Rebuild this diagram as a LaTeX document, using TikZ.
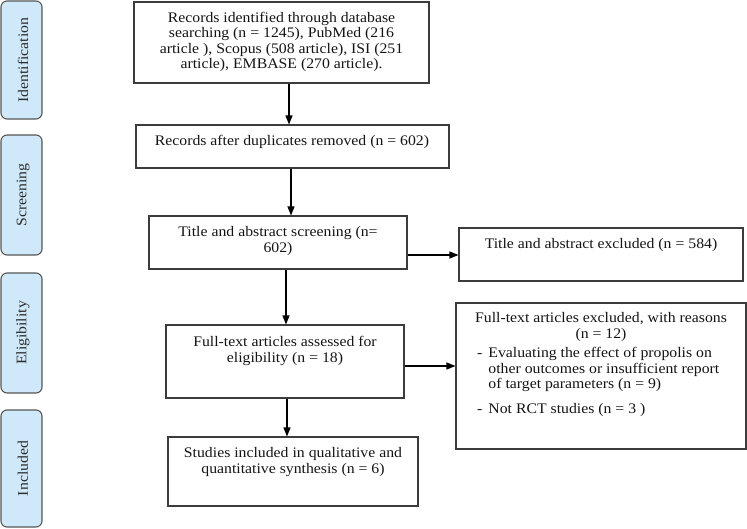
\documentclass[tikz,border=0pt]{standalone}
\usepackage{fontspec}
\setmainfont{Liberation Serif}[FakeStretch=1.08]
\usetikzlibrary{arrows.meta}
\definecolor{lblfill}{HTML}{CFE9FA}
\definecolor{lbldraw}{HTML}{555555}
\definecolor{boxdraw}{HTML}{3C3C3C}
\definecolor{txtcol}{HTML}{141414}
\begin{document}
\begin{tikzpicture}[x=1pt,y=-1pt,
  box/.style={draw=boxdraw, line width=1.1pt, inner sep=0pt},
  lbl/.style={draw=lbldraw, fill=lblfill, rounded corners=6pt, line width=1.1pt, inner sep=0pt, minimum width=41pt},
  txt/.style={text=txtcol, font=\fontsize{14.6}{15.3}\selectfont, align=center, inner sep=0pt},
  lbltxt/.style={text=txtcol!90, font=\fontsize{14.6}{15.3}\selectfont, rotate=90, inner sep=0pt},
  arr/.style={-{Triangle[length=9pt,width=7pt]}, line width=1.2pt, black}]
\useasboundingbox (0,0) rectangle (747,529);

% phase labels
\node[lbl, minimum height=118pt] (l1) at (21.5,60) {};
\node[lbl, minimum height=120pt] (l2) at (21.5,195) {};
\node[lbl, minimum height=120pt] (l3) at (21.5,333) {};
\node[lbl, minimum height=117pt] (l4) at (21.5,468.5) {};
\node[lbltxt] (lt1) at (23,60) {Identification};
\node[lbltxt] (lt2) at (23,195) {Screening};
\node[lbltxt] (lt3) at (23,333) {Eligibility};
\node[lbltxt] (lt4) at (23,468.5) {Included};

% boxes
\node[box, minimum width=295pt, minimum height=81pt] (b1) at (281.5,42.5) {};
\node[box, minimum width=313pt, minimum height=43pt] (b2) at (292.5,146.5) {};
\node[box, minimum width=258pt, minimum height=53pt] (b3) at (278,242.5) {};
\node[box, minimum width=284pt, minimum height=53pt] (b4) at (601,254.5) {};
\node[box, minimum width=238pt, minimum height=73pt] (b5) at (285,361.5) {};
\node[box, minimum width=290pt, minimum height=146pt] (b6) at (601,376) {};
\node[box, minimum width=250pt, minimum height=69pt] (b7) at (293,471.5) {};

% texts
\node[txt] (t1) at (281.5,42) {Records identified through database\\searching (n = 1245), PubMed (216\\article ), Scopus (508 article), ISI (251\\article), EMBASE (270 article).};
\node[txt] (t2) at (292,142) {Records after duplicates removed (n = 602)};
\node[txt] (t3) at (278,241) {Title and abstract screening (n=\\602)};
\node[txt] (t4) at (601,245) {Title and abstract excluded (n = 584)};
\node[txt] (t5) at (285,351) {Full-text articles assessed for\\eligibility (n = 18)};
\node[txt] (t7) at (293,462) {Studies included in qualitative and\\quantitative synthesis (n = 6)};
\node[txt] (t6) at (601,327) {Full-text articles excluded, with reasons\\(n = 12)};
\node[txt, anchor=west] (t6a) at (477,370) {\begin{tabular}{@{}l@{\hspace{6pt}}l@{}}-&Evaluating the effect of propolis on\\&other outcomes or insufficient report\\&of target parameters (n = 9)\end{tabular}};
\node[txt, anchor=west] (t6b) at (477,410) {\begin{tabular}{@{}l@{\hspace{6pt}}l@{}}-&Not RCT studies (n = 3 )\end{tabular}};

% connectors
\coordinate (ax1) at (289,0);
\coordinate (ax2) at (291,0);
\coordinate (ax3) at (286,0);
\coordinate (ax4) at (287,0);
\coordinate (ay1) at (0,255);
\coordinate (ay2) at (0,366);
\draw[arr] (ax1 |- b1.south) -- (ax1 |- b2.north);
\draw[arr] (ax2 |- b2.south) -- (ax2 |- b3.north);
\draw[arr] (ax3 |- b3.south) -- (ax3 |- b5.north);
\draw[arr] (ax4 |- b5.south) -- (ax4 |- b7.north);
\draw[arr] (b3.east |- ay1) -- (b4.west |- ay1);
\draw[arr] (b5.east |- ay2) -- (b6.west |- ay2);
\end{tikzpicture}
\end{document}
